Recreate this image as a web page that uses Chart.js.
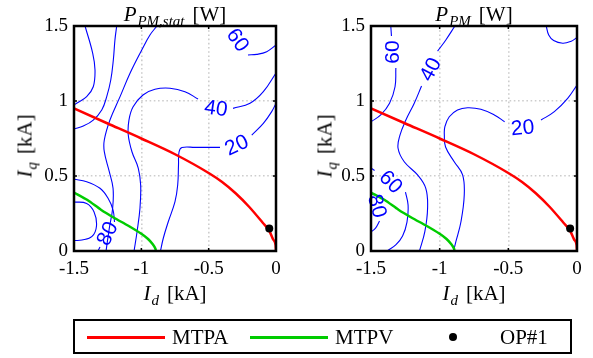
<!DOCTYPE html>
<html>
<head>
<meta charset="utf-8">
<script src="https://cdn.jsdelivr.net/npm/chart.js@4.4.0/dist/chart.umd.min.js"></script>
<style>
    body { margin: 0; width: 593px; height: 358px; background: #fff; position: relative; overflow: hidden;
           font-family: "Liberation Serif", "DejaVu Serif", serif; color: #000; }
    canvas { position: absolute; top: 0; }
    .t { position: absolute; transform: translate(-50%, -50%); font-size: 21px; line-height: 1; white-space: nowrap; }
    .t sub { font-size: 15px; vertical-align: baseline; position: relative; top: 5px; margin-left: 1px; }
    .gap { margin-left: 8px; }
    #legend { position: absolute; left: 73px; top: 319px; width: 499px; height: 35px; box-sizing: border-box; border: 2px solid #000; }
    .ln { position: absolute; height: 2.5px; top: 336px; }
    .lt { position: absolute; top: 337px; transform: translateY(-50%); font-size: 21px; line-height: 1; }
    .dot { position: absolute; width: 8px; height: 8px; border-radius: 50%; background: #000; left: 449px; top: 333px; }
</style>
</head>
<body>
<canvas id="statChart" width="296" height="310" style="left:0"></canvas>
<canvas id="pmChart" width="297" height="310" style="left:296px"></canvas>

<div class="t" style="left:175px;top:14px"><i>P</i><sub><i>PM,stat</i></sub><span class="gap">[W]</span></div>
<div class="t" style="left:474px;top:14px"><i>P</i><sub><i>PM</i></sub><span class="gap">[W]</span></div>
<div class="t" style="left:25px;top:146px;transform:translate(-50%,-50%) rotate(-90deg)"><i>I</i><sub><i>q</i></sub><span class="gap">[kA]</span></div>
<div class="t" style="left:325px;top:146px;transform:translate(-50%,-50%) rotate(-90deg)"><i>I</i><sub><i>q</i></sub><span class="gap">[kA]</span></div>
<div class="t" style="left:175px;top:293px"><i>I</i><sub><i>d</i></sub><span class="gap">[kA]</span></div>
<div class="t" style="left:474px;top:293px"><i>I</i><sub><i>d</i></sub><span class="gap">[kA]</span></div>

<div id="legend"></div>
<div class="ln" style="left:87px;width:78px;background:#ff0000"></div>
<div class="lt" style="left:172px">MTPA</div>
<div class="ln" style="left:250px;width:78px;background:#00cc00"></div>
<div class="lt" style="left:335px">MTPV</div>
<div class="dot"></div>
<div class="lt" style="left:500px">OP#1</div>

<script>
// axis ticks (kA)
const idTicks = [-1.5, -1, -0.5, 0];
const iqTicks = [0, 0.5, 1, 1.5];

// trajectories, [Id, Iq] in kA
const mtpa = [[-1.5, 0.95], [-1.25, 0.85], [-1.0, 0.75], [-0.75, 0.645], [-0.5, 0.52], [-0.4, 0.46],
              [-0.3, 0.385], [-0.2, 0.295], [-0.1, 0.19], [-0.05, 0.135], [-0.02, 0.075], [-0.003, 0.04], [0, 0]];
const mtpv = [[-1.5, 0.39], [-1.4, 0.34], [-1.3, 0.275], [-1.2, 0.22], [-1.1, 0.17], [-1.0, 0.115],
              [-0.95, 0.08], [-0.915, 0.045], [-0.895, 0.015], [-0.893, 0]];
const op1 = [[-0.05, 0.15]];

// iso-loss lines of P_PM,stat (pieces between labels)
const statLines = [
    [[-1.418, 1.5], [-1.361, 1.318], [-1.344, 1.207], [-1.357, 1.095], [-1.406, 1.029], [-1.48, 0.985], [-1.5, 0.973]],
    [[-1.183, 1.5], [-1.196, 1.407], [-1.208, 1.273], [-1.227, 1.14], [-1.257, 1.029], [-1.294, 0.94], [-1.357, 0.873], [-1.431, 0.833], [-1.5, 0.813]],
    [[-0.884, 1.5], [-0.936, 1.44], [-0.997, 1.34], [-1.084, 1.185], [-1.158, 1.029], [-1.233, 0.873], [-1.275, 0.74],
     [-1.275, 0.662], [-1.238, 0.529], [-1.21, 0.418], [-1.213, 0.285], [-1.238, 0.151], [-1.262, 0]],
    [[-1.054, 0], [-1.032, 0.127], [-1.01, 0.287], [-1.005, 0.44], [-1.023, 0.553], [-1.069, 0.66], [-1.097, 0.773],
     [-1.092, 0.873], [-1.062, 0.96], [-0.988, 1.04], [-0.899, 1.078], [-0.787, 1.085], [-0.676, 1.062], [-0.579, 1.013]],
    [[-0.319, 0.951], [-0.193, 0.985], [-0.094, 1.062], [0, 1.187]],
    [[-0.858, 0], [-0.837, 0.085], [-0.8, 0.195], [-0.75, 0.329], [-0.73, 0.44], [-0.724, 0.573], [-0.72, 0.66],
     [-0.698, 0.69], [-0.601, 0.691], [-0.416, 0.691]],
    [[-0.18, 0.773], [-0.094, 0.851], [-0.032, 0.929], [0, 0.985]],
    [[0, 1.373], [-0.069, 1.329], [-0.143, 1.311], [-0.208, 1.307]],
    [[-1.5, 0.478], [-1.406, 0.462], [-1.307, 0.418], [-1.248, 0.353], [-1.21, 0.273], [-1.199, 0.193]],
    [[-1.307, 0.027], [-1.322, 0]],
    [[-1.5, 0.327], [-1.406, 0.317], [-1.351, 0.26], [-1.333, 0.167], [-1.366, 0.097], [-1.441, 0.073], [-1.5, 0.07]]
];
const statLabelText = ['60', '40', '20', '80'];
const statLabelAt = [[-0.282, 1.407], [-0.446, 0.953], [-0.293, 0.707], [-1.255, 0.117]];
const statLabelRot = [55, 8, -25, -65];

// iso-loss lines of P_PM
const pmLines = [
    [[-1.356, 1.5], [-1.351, 1.433]],
    [[-1.319, 1.22], [-1.325, 1.095], [-1.365, 0.985], [-1.429, 0.907], [-1.5, 0.862]],
    [[-0.889, 1.5], [-0.955, 1.407], [-1.015, 1.333]],
    [[-1.132, 1.1], [-1.185, 0.985], [-1.246, 0.873], [-1.289, 0.773], [-1.303, 0.685], [-1.258, 0.595],
     [-1.161, 0.507], [-1.101, 0.418], [-1.088, 0.285], [-1.108, 0.129], [-1.147, 0]],
    [[-0.899, 0], [-0.882, 0.062], [-0.845, 0.195], [-0.821, 0.373], [-0.833, 0.507], [-0.894, 0.595], [-0.957, 0.693],
     [-0.966, 0.773], [-0.962, 0.829], [-0.93, 0.895], [-0.87, 0.94], [-0.797, 0.955], [-0.7, 0.945], [-0.602, 0.907], [-0.527, 0.862]],
    [[-0.262, 0.873], [-0.165, 0.929], [-0.068, 1.018], [0, 1.107]],
    [[-0.224, 1.5], [-0.206, 1.44], [-0.17, 1.403], [-0.104, 1.385], [-0.046, 1.397], [0, 1.423]],
    [[-1.5, 0.553], [-1.474, 0.537]],
    [[-1.249, 0.393], [-1.23, 0.307], [-1.238, 0.193], [-1.27, 0.1], [-1.318, 0.043], [-1.383, 0]],
    [[-1.5, 0.393], [-1.482, 0.373]],
    [[-1.438, 0.2], [-1.467, 0.153], [-1.5, 0.127]]
];
const pmLabelText = ['60', '40', '20', '60', '80'];
const pmLabelAt = [[-1.343, 1.327], [-1.069, 1.211], [-0.396, 0.823], [-1.354, 0.462], [-1.453, 0.3]];
const pmLabelRot = [-90, -62, -5, 45, 75];

const xy = pts => pts.map(p => ({ x: p[0], y: p[1] }));

// contour labels, box with inner ticks
const framePlugin = {
    id: 'frame',
    afterDatasetsDraw(chart, args, opts) {
        const { ctx, scales: { x, y } } = chart;
        ctx.save();
        ctx.fillStyle = '#0000ff';
        ctx.font = '21px "Liberation Sans", Arial, sans-serif';
        ctx.textAlign = 'center';
        ctx.textBaseline = 'middle';
        opts.text.forEach((t, i) => {
            ctx.save();
            ctx.translate(x.getPixelForValue(opts.at[i][0]), y.getPixelForValue(opts.at[i][1]));
            ctx.rotate(opts.rot[i] * Math.PI / 180);
            ctx.fillText(t, 0, 1);
            ctx.restore();
        });
        ctx.restore();
    },
    afterDraw(chart) {
        const { ctx, chartArea: a, scales: { x, y } } = chart;
        ctx.save();
        ctx.strokeStyle = '#000';
        ctx.lineWidth = 1.5;
        ctx.beginPath();
        idTicks.forEach(v => {
            const px = x.getPixelForValue(v);
            ctx.moveTo(px, a.bottom); ctx.lineTo(px, a.bottom - 3);
            ctx.moveTo(px, a.top); ctx.lineTo(px, a.top + 3);
        });
        iqTicks.forEach(v => {
            const py = y.getPixelForValue(v);
            ctx.moveTo(a.left, py); ctx.lineTo(a.left + 3, py);
            ctx.moveTo(a.right, py); ctx.lineTo(a.right - 3, py);
        });
        ctx.stroke();
        ctx.lineWidth = 2.5;
        ctx.strokeRect(a.left, a.top, a.right - a.left, a.bottom - a.top);
        ctx.restore();
    }
};

function makeChart(id, lines, labelText, labelAt, labelRot, yWidth, padRight) {
    const datasets = [
        { data: xy(op1), showLine: false, pointRadius: 4, pointBackgroundColor: '#000', pointBorderWidth: 0 },
        { data: xy(mtpa), borderColor: '#ff0000', borderWidth: 2.5, pointRadius: 0, cubicInterpolationMode: 'monotone' },
        { data: xy(mtpv), borderColor: '#00cc00', borderWidth: 2.5, pointRadius: 0, tension: 0.2 }
    ];
    lines.forEach(l => datasets.push({ data: xy(l), borderColor: '#0000ff', borderWidth: 1.1, pointRadius: 0, tension: 0.4 }));

    const gridColor = (edges) => ctx => edges.includes(ctx.tick.value) ? 'rgba(0,0,0,0)' : '#cdcdcd';

    return new Chart(document.getElementById(id), {
        type: 'line',
        data: { datasets },
        options: {
            responsive: false,
            animation: false,
            devicePixelRatio: 1,
            layout: { padding: { top: 26, right: padRight, left: 0, bottom: 0 } },
            plugins: {
                legend: { display: false },
                tooltip: { enabled: false },
                frame: { text: labelText, at: labelAt, rot: labelRot }
            },
            scales: {
                x: {
                    type: 'linear', min: -1.5, max: 0,
                    afterBuildTicks: s => { s.ticks = idTicks.map(v => ({ value: v })); },
                    afterFit: s => { s.height = 59; },
                    ticks: { color: '#000', padding: 7, maxRotation: 0, font: { family: 'Liberation Serif', size: 19 }, callback: v => String(v) },
                    grid: { color: gridColor([-1.5, 0]), drawTicks: false, lineWidth: 1.6 },
                    border: { display: false, dash: [1.6, 2.6] }
                },
                y: {
                    type: 'linear', min: 0, max: 1.5,
                    afterBuildTicks: s => { s.ticks = iqTicks.map(v => ({ value: v })); },
                    afterFit: s => { s.width = yWidth; },
                    ticks: { color: '#000', padding: 6, font: { family: 'Liberation Serif', size: 19 }, callback: v => String(v) },
                    grid: { color: gridColor([0, 1.5]), drawTicks: false, lineWidth: 1.6 },
                    border: { display: false, dash: [1.6, 2.6] }
                }
            }
        },
        plugins: [framePlugin]
    });
}

makeChart('statChart', statLines, statLabelText, statLabelAt, statLabelRot, 74, 20);
makeChart('pmChart', pmLines, pmLabelText, pmLabelAt, pmLabelRot, 75, 16);
</script>
</body>
</html>
